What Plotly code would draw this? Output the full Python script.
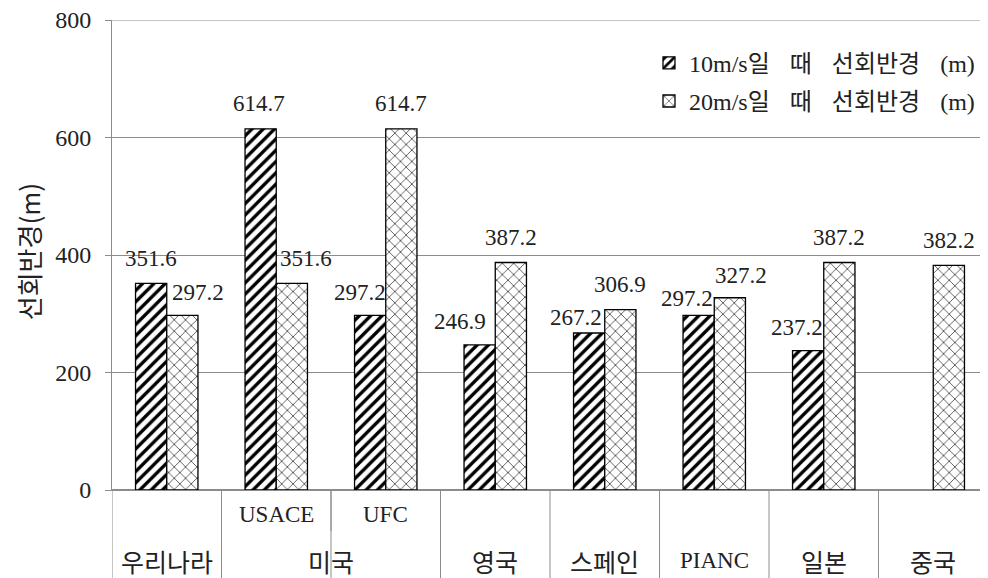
import plotly.graph_objects as go

# ---- data ----
outer_labels = ["우리나라", "미국", "미국", "영국", "스페인", "PIANC", "일본", "중국"]
inner_labels = ["", "USACE", "UFC", "", "", "", "", ""]
GAP = "\u2002\u2004"
series_names = [f"10m/s일{GAP}때{GAP}선회반경{GAP}(m)",
                f"20m/s일{GAP}때{GAP}선회반경{GAP}(m)"]
radius_10 = [351.6, 614.7, 297.2, 246.9, 267.2, 297.2, 237.2, None]
radius_20 = [297.2, 351.6, 614.7, 387.2, 306.9, 327.2, 387.2, 382.2]
y_ticks = [0, 200, 400, 600, 800]

# label nudges (pixels) mimicking the reference placement
shift_10 = [(0, 25), (-2, 25), (-10, 23), (-20, 23), (-13, 16), (-12, 17), (-11, 23), (0, 0)]
shift_20 = [(16, 23), (14, 25), (0, 25), (0, 25), (0, 25), (11, 22), (0, 25), (0, 25)]

SERIF = "Liberation Serif, Noto Sans CJK KR"
KR = "Noto Sans CJK KR, Liberation Serif"
GRID = "#8c8c8c"
TXT = "#222222"

n = len(outer_labels)
xs = list(range(n))
bargap = 0.43
bw = (1 - bargap) / 2

fig = go.Figure()
fig.add_trace(go.Bar(
    x=xs, y=radius_10, name=series_names[0], width=bw, offset=-bw, legendgroup="a",
    marker=dict(color="white", line=dict(color="black", width=1.3),
                pattern=dict(shape="/", fgcolor="black", bgcolor="white",
                             size=8, solidity=0.42, fillmode="replace")),
))
fig.add_trace(go.Bar(
    x=xs, y=radius_20, name=series_names[1], width=bw, offset=0, legendgroup="b",
    marker=dict(color="white", line=dict(color="black", width=1.3),
                pattern=dict(shape="x", fgcolor="#333333", bgcolor="white",
                             size=8, solidity=0.18, fillmode="replace")),
))

annotations = []
for i, v in enumerate(radius_10):
    if v is None:
        continue
    dx, dy = shift_10[i]
    annotations.append(dict(x=i - bw / 2, y=v, xref="x", yref="y", text=f"{v:.1f}",
                            showarrow=False, xshift=dx, yshift=dy,
                            font=dict(family=SERIF, size=23, color=TXT)))
for i, v in enumerate(radius_20):
    dx, dy = shift_20[i]
    annotations.append(dict(x=i + bw / 2, y=v, xref="x", yref="y", text=f"{v:.1f}",
                            showarrow=False, xshift=dx, yshift=dy,
                            font=dict(family=SERIF, size=23, color=TXT)))

# category table below plot
for i, lab in enumerate(inner_labels):
    if lab:
        annotations.append(dict(x=i, y=-0.053, xref="x", yref="paper", text=lab,
                                showarrow=False, yanchor="middle",
                                font=dict(family=SERIF, size=23, color=TXT)))
groups = []
for i, lab in enumerate(outer_labels):
    if groups and groups[-1][0] == lab:
        groups[-1][2] = i
    else:
        groups.append([lab, i, i])
for lab, a, b in groups:
    annotations.append(dict(x=(a + b) / 2, y=-0.15, xref="x", yref="paper", text=lab,
                            showarrow=False, yanchor="middle",
                            font=dict(family=KR if lab != "PIANC" else SERIF,
                                      size=25 if lab != "PIANC" else 23, color=TXT)))

shapes = []
for i in range(n + 1):
    shapes.append(dict(type="line", xref="x", yref="paper", x0=i - 0.5, x1=i - 0.5,
                       y0=0, y1=-0.2, line=dict(color=GRID, width=1)))
# inner divider inside 미국 group
for lab, a, b in groups:
    for k in range(a, b):
        shapes.append(dict(type="line", xref="x", yref="paper", x0=k + 0.5, x1=k + 0.5,
                           y0=0, y1=-0.088, line=dict(color=GRID, width=1)))
# top gridline at the range edge
shapes.append(dict(type="line", xref="paper", yref="y", x0=0, x1=1, y0=y_ticks[-1],
                   y1=y_ticks[-1], line=dict(color=GRID, width=1), layer="below"))

annotations.append(dict(x=-0.0959, y=0.508, xref="paper", yref="paper", text="선회반경(m)",
                        textangle=-90, showarrow=False, xanchor="center", yanchor="middle",
                        font=dict(family=KR, size=26, color=TXT)))

# the page adds an 8px body margin, so the figure is 8px smaller than the window
fig.update_layout(
    width=980, height=570,
    margin=dict(l=104, r=0, t=12, b=88, autoexpand=False),
    paper_bgcolor="white", plot_bgcolor="white",
    barmode="overlay",
    showlegend=True,
    legend=dict(x=0.613, y=0.956, xanchor="left", yanchor="top",
                bgcolor="rgba(255,255,255,0)",
                font=dict(family=SERIF, size=24, color=TXT),
                itemwidth=30, tracegroupgap=4),
    xaxis=dict(range=[-0.5, n - 0.5], showticklabels=False, showgrid=False,
               zeroline=False, showline=True, linecolor=GRID, linewidth=1, ticks="",
               automargin=False),
    yaxis=dict(range=[0, 800], tickvals=y_ticks, showgrid=True, gridcolor=GRID,
               gridwidth=1, zeroline=True, zerolinecolor=GRID, showline=True,
               linecolor=GRID, linewidth=1, ticks="outside", ticklen=6, tickcolor=GRID,
               ticklabelstandoff=9, automargin=False, ticklabeloverflow="allow",
               tickfont=dict(family=SERIF, size=24, color=TXT)),
    annotations=annotations,
    shapes=shapes,
)

fig.write_html("out.html")
